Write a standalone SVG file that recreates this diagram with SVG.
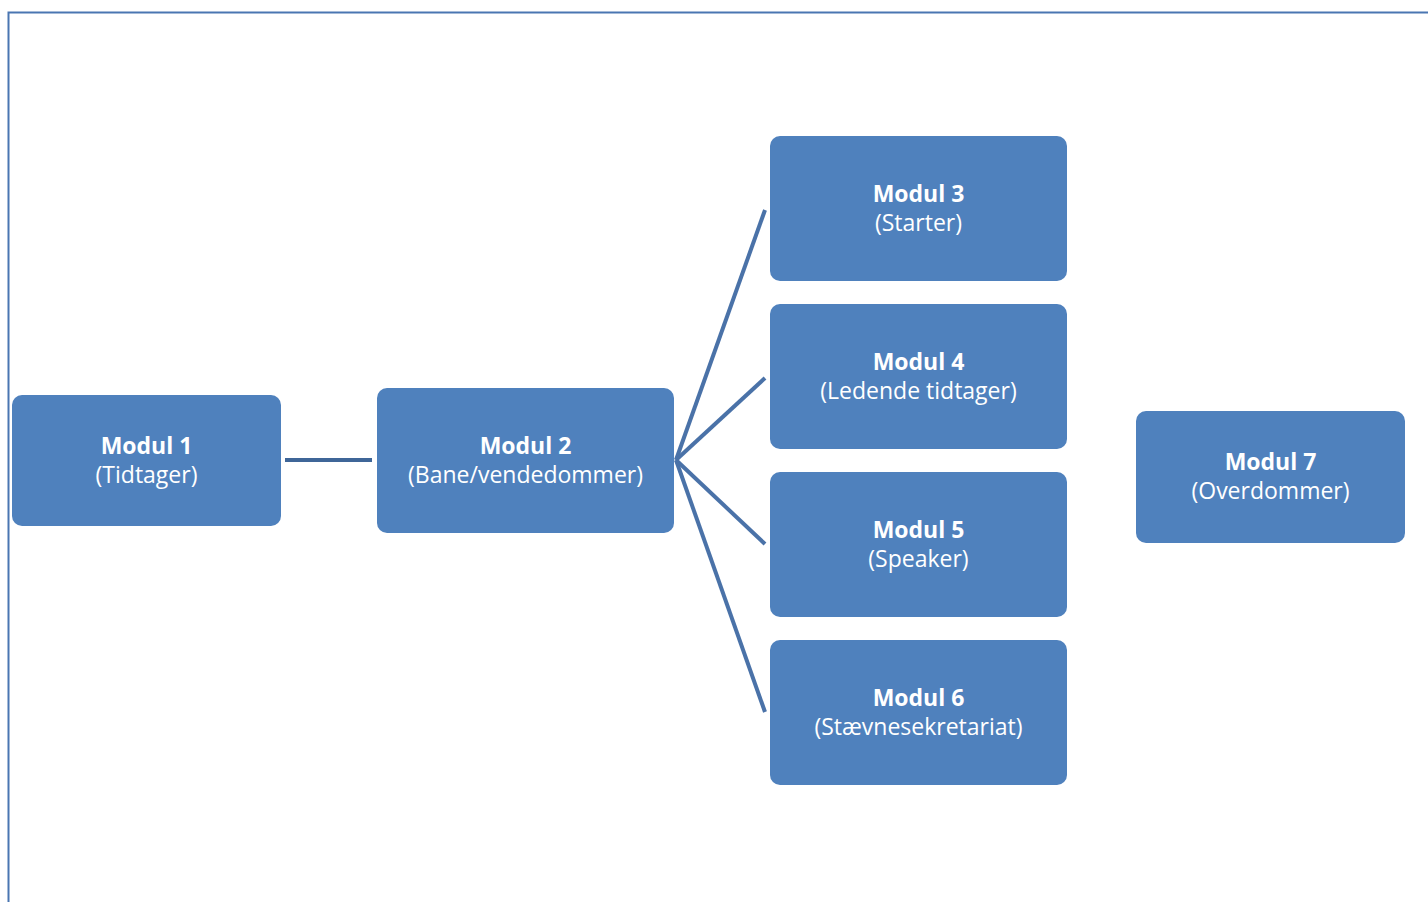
<svg xmlns="http://www.w3.org/2000/svg" width="1428" height="902" viewBox="0 0 1428 902">
<style>
.box{fill:#4F81BD;}
.t1{font-family:"Open Sans","Liberation Sans",sans-serif;font-weight:bold;font-size:23px;fill:#fff;text-anchor:middle;}
.t2{font-family:"Open Sans","Liberation Sans",sans-serif;font-size:23px;fill:#fff;text-anchor:middle;}
.c{stroke:#4A72A8;stroke-width:4;fill:none;}
</style>
<rect width="1428" height="902" fill="#fff"/>
<path d="M8.5,902 V12.5 H1428" fill="none" stroke="#4A76B2" stroke-width="2"/>
<g id="connectors">
<line class="c" x1="285" y1="460" x2="372" y2="460" style="stroke:#3F6698"/>
<line class="c" x1="676" y1="460" x2="765" y2="210"/>
<line class="c" x1="676" y1="460" x2="765" y2="378"/>
<line class="c" x1="676" y1="460" x2="765" y2="544"/>
<line class="c" x1="676" y1="460" x2="765" y2="712"/>
</g>
<g id="m1"><rect class="box" x="12" y="395" width="269" height="131" rx="10"/><text class="t1" x="146.5" y="454">Modul 1</text><text class="t2" x="146.5" y="483">(Tidtager)</text></g>
<g id="m2"><rect class="box" x="377" y="388" width="297" height="145" rx="10"/><text class="t1" x="525.5" y="454">Modul 2</text><text class="t2" x="525.5" y="483">(Bane/vendedommer)</text></g>
<g id="m3"><rect class="box" x="770" y="136" width="297" height="145" rx="10"/><text class="t1" x="918.5" y="202">Modul 3</text><text class="t2" x="918.5" y="231">(Starter)</text></g>
<g id="m4"><rect class="box" x="770" y="304" width="297" height="145" rx="10"/><text class="t1" x="918.5" y="370">Modul 4</text><text class="t2" x="918.5" y="399">(Ledende tidtager)</text></g>
<g id="m5"><rect class="box" x="770" y="472" width="297" height="145" rx="10"/><text class="t1" x="918.5" y="538">Modul 5</text><text class="t2" x="918.5" y="567">(Speaker)</text></g>
<g id="m6"><rect class="box" x="770" y="640" width="297" height="145" rx="10"/><text class="t1" x="918.5" y="706">Modul 6</text><text class="t2" x="918.5" y="735">(Stævnesekretariat)</text></g>
<g id="m7"><rect class="box" x="1136" y="411" width="269" height="132" rx="10"/><text class="t1" x="1270.5" y="470">Modul 7</text><text class="t2" x="1270.5" y="499">(Overdommer)</text></g>
</svg>
